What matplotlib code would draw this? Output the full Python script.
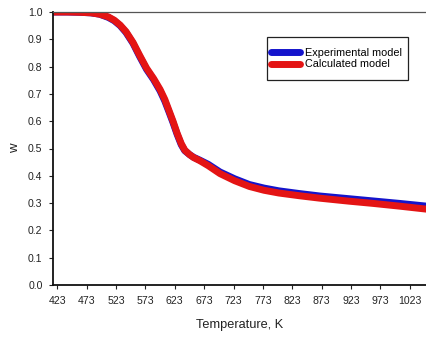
import matplotlib
matplotlib.use("Agg")
import matplotlib.pyplot as plt
from matplotlib.patches import Rectangle

plt.rcParams['font.family'] = ['Liberation Sans', 'DejaVu Sans']

# Thermogravimetric mass fraction w versus temperature
temperature = [416, 440, 460, 480, 495, 510, 520, 530, 540, 552, 563, 575, 587,
               598, 606, 613, 620, 627, 634, 640, 648, 655, 666, 680, 700, 725,
               750, 775, 800, 835, 870, 920, 960, 1005, 1051]
w_experimental = [1.000, 1.000, 0.999, 0.997, 0.992, 0.980, 0.968, 0.950, 0.925,
                  0.885, 0.838, 0.790, 0.752, 0.711, 0.674, 0.635, 0.595, 0.552,
                  0.514, 0.492, 0.478, 0.468, 0.457, 0.442, 0.414, 0.389, 0.368,
                  0.355, 0.345, 0.335, 0.326, 0.316, 0.308, 0.299, 0.289]
w_calculated = [1.000, 1.000, 0.999, 0.997, 0.992, 0.982, 0.970, 0.952, 0.928,
                0.888, 0.842, 0.794, 0.756, 0.716, 0.680, 0.640, 0.600, 0.556,
                0.518, 0.494, 0.478, 0.467, 0.455, 0.437, 0.408, 0.382, 0.361,
                0.347, 0.337, 0.327, 0.318, 0.307, 0.299, 0.289, 0.278]

x_ticks = [423, 473, 523, 573, 623, 673, 723, 773, 823, 873, 923, 973, 1023]
y_ticks = [0.0, 0.1, 0.2, 0.3, 0.4, 0.5, 0.6, 0.7, 0.8, 0.9, 1.0]

fig = plt.figure(figsize=(4.26, 3.37), dpi=100)
ax = fig.add_axes([53 / 426, 1 - 285 / 337, 373 / 426, 273 / 337])

ax.plot(temperature, w_experimental, color='#1414cc', lw=5,
        solid_capstyle='round', solid_joinstyle='round', label='Experimental model')
ax.plot(temperature, w_calculated, color='#e41414', lw=5,
        solid_capstyle='round', solid_joinstyle='round', label='Calculated model')

ax.set_xlim(415.7, 1050.7)
ax.set_ylim(0.0, 1.0)
ax.set_xticks(x_ticks)
ax.set_xticklabels([str(t) for t in x_ticks])
ax.set_yticks(y_ticks)
ax.set_yticklabels([f"{v:.1f}" for v in y_ticks])

ax.tick_params(axis='both', direction='out', length=3, width=0.8,
               labelsize=7.6, colors='#222222')
ax.tick_params(axis='x', pad=5)
ax.tick_params(axis='y', pad=4.5)

for side in ('left', 'bottom'):
    ax.spines[side].set_linewidth(1.3)
    ax.spines[side].set_color('#111111')
ax.spines['top'].set_linewidth(0.9)
ax.spines['top'].set_color('#555555')
ax.spines['right'].set_visible(False)

ax.set_xlabel('Temperature, K', fontsize=9.2, color='#222222', labelpad=9.5)
ax.set_ylabel('w', fontsize=9.5, color='#222222')
ax.yaxis.set_label_coords(-0.087, 0.5)

# Legend entries without frame; the box is drawn separately
leg = ax.legend(loc='center left', bbox_to_anchor=(0.5845, 0.8297), fontsize=7.8,
                frameon=False, handlelength=2.7, handletextpad=0.4, borderpad=0,
                labelspacing=0.15, borderaxespad=0)
ax.add_patch(Rectangle((0.573, 0.751), 0.3795, 0.1563, transform=ax.transAxes,
                       fill=False, edgecolor='#222222', linewidth=0.9, zorder=5,
                       clip_on=False))

fig.savefig('out.png', dpi=100)
